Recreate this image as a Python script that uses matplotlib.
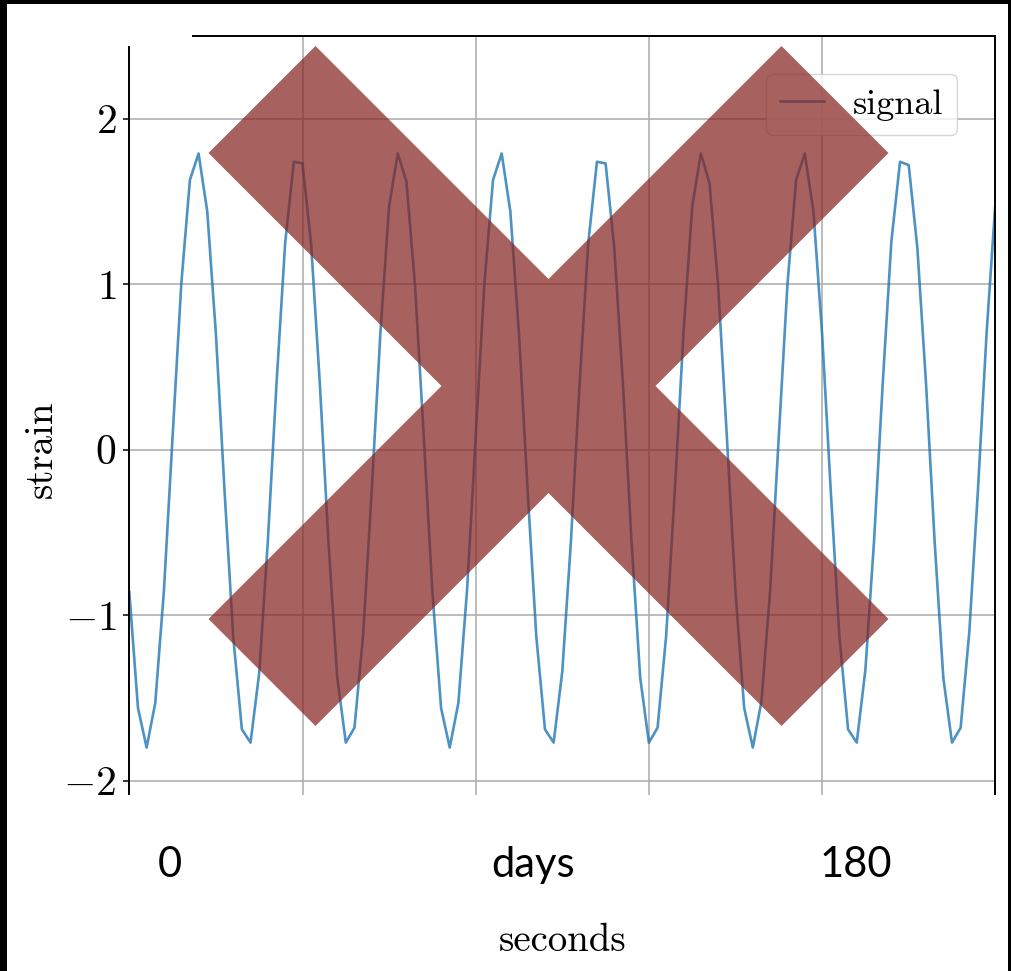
import numpy as np
import matplotlib
matplotlib.use("Agg")
import matplotlib.pyplot as plt
from matplotlib.patches import Rectangle, Polygon

# ---------------- data ----------------
strain = [
    -0.86, -1.56, -1.80, -1.53, -0.85, 0.08, 1.00, 1.63, 1.79, 1.44,
    0.70, -0.25, -1.13, -1.69, -1.77, -1.35, -0.55, 0.40, 1.25, 1.74,
    1.73, 1.24, 0.40, -0.56, -1.37, -1.77, -1.68, -1.12, -0.24, 0.71,
    1.47, 1.79, 1.62, 0.99, 0.08, -0.86, -1.56, -1.80, -1.53, -0.85,
    0.08, 1.00, 1.63, 1.79, 1.44, 0.70, -0.25, -1.13, -1.69, -1.77,
    -1.34, -0.55, 0.40, 1.25, 1.74, 1.73, 1.22, 0.40, -0.56, -1.38,
    -1.77, -1.68, -1.12, -0.24, 0.71, 1.47, 1.79, 1.61, 0.99, 0.08,
    -0.86, -1.56, -1.80, -1.52, -0.85, 0.08, 1.00, 1.63, 1.79, 1.44,
    0.70, -0.25, -1.13, -1.69, -1.77, -1.33, -0.55, 0.40, 1.26, 1.74,
    1.72, 1.22, 0.40, -0.56, -1.38, -1.77, -1.68, -1.10, -0.24, 0.71,
    1.48,
]
t_start, t_end = 0.0, 1.0
x_ticks = [0.0, 0.2, 0.4, 0.6, 0.8, 1.0]
y_ticks = [-2, -1, 0, 1, 2]
y_tick_labels = [rf"${v}$" for v in y_ticks]
series_label = "signal"
x_label = "seconds"
y_label = "strain"
overlay_texts = ["0", "days", "180"]

# ---------------- style ----------------
plt.rcParams.update({
    "font.family": "serif",
    "font.serif": ["cmr10", "DejaVu Serif"],
    "mathtext.fontset": "cm",
    "axes.formatter.use_mathtext": True,
})

W, H = 1012, 971
fig = plt.figure(figsize=(W / 100, H / 100), dpi=100, facecolor="white")
ax = fig.add_axes([129.3 / W, 1 - 863.4 / H, 866 / W, 827.4 / H])

t = np.linspace(t_start, t_end, len(strain))
ax.plot(t, strain, color="#1f77b4", alpha=0.8, lw=1.9, label=series_label)

ax.set_xlim(t_start, t_end)
ax.set_ylim(-2.5, 2.5)
ax.set_xticks(x_ticks)
ax.set_yticks(y_ticks)
ax.set_yticklabels(y_tick_labels)
ax.grid(True, color="#b0b0b0", lw=1.2)
ax.tick_params(axis="y", direction="out", length=4.3, width=1.1,
               labelsize=30, pad=5)
ax.tick_params(axis="x", length=0, labelbottom=False)
for s in ax.spines.values():
    s.set_linewidth(1.4)
ax.spines["top"].set_bounds(0.072, 1.0)
ax.spines["left"].set_bounds(-2.5, 2.443)

ax.set_ylabel(y_label, fontsize=28)
ax.yaxis.set_label_coords(-0.080, 0.5)
ax.set_xlabel(x_label, fontsize=28)
ax.xaxis.set_label_coords(0.5, -0.072)

ax.legend(loc="upper right", fontsize=26, handlelength=1.2,
          borderaxespad=1.05, framealpha=0.8, edgecolor="0.8", fancybox=True)

# ---------------- overlays (slide cover boxes, X mark, texts) ----------------
fig.patches.append(Rectangle((0, 1 - 905 / H), 1, 110 / H, transform=fig.transFigure,
                             facecolor="white", edgecolor="none", zorder=10))
fig.patches.append(Rectangle((0, 1 - 46 / H), 192 / W, 46 / H, transform=fig.transFigure,
                             facecolor="white", edgecolor="none", zorder=10))

cx, cy, R, c = 548.5, 386.0, 340.0, 107.0
rel = [(-R, -R + c), (-R + c, -R), (0, -c), (R - c, -R), (R, -R + c), (c, 0),
       (R, R - c), (R - c, R), (0, c), (-R + c, R), (-R, R - c), (-c, 0)]
verts = [((cx + dx) / W, 1 - (cy + dy) / H) for dx, dy in rel]
fig.patches.append(Polygon(verts, closed=True, transform=fig.transFigure,
                           facecolor="#862521", edgecolor="none", alpha=0.72, zorder=20))

for txt, xc in zip(overlay_texts, [170, 533, 856]):
    fig.text(xc / W, 1 - 877 / H, txt, ha="center", va="baseline",
             fontsize=30, family=["Lato", "DejaVu Sans"], zorder=25)

# black frame of the screenshot
for (x0, y0, w, h) in [(0, 0, 7, H), (0, 0, W, 4), (1008, 0, 4, H)]:
    fig.patches.append(Rectangle((x0 / W, 1 - (y0 + h) / H), w / W, h / H,
                                 transform=fig.transFigure, facecolor="black",
                                 edgecolor="none", zorder=30))

fig.savefig("out.png", dpi=100, facecolor=fig.get_facecolor())
